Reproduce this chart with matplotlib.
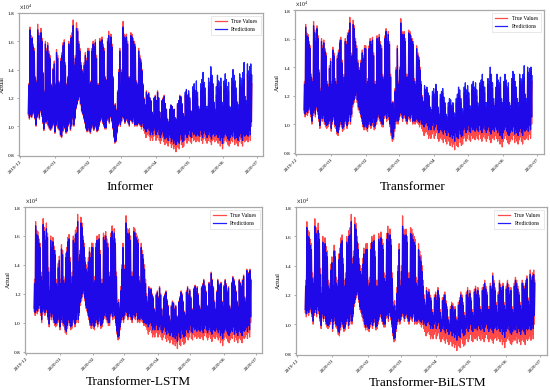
import numpy as np
import matplotlib
matplotlib.use("Agg")
import matplotlib.pyplot as plt
import matplotlib.dates as mdates
from matplotlib.ticker import ScalarFormatter

plt.rcParams['font.family'] = ['Liberation Serif', 'DejaVu Serif']
plt.rcParams['mathtext.fontset'] = 'stix'

# daily load, units of 100 (first day 2019-12-08), one row per week Sun..Sat
start_day = '2019-12-08'

true_peak = [
    130, 170, 164, 163, 158, 155, 135,
    132, 172, 166, 160, 169, 162, 138,
    125, 160, 155, 159, 153, 150, 130,
    128, 141, 146, 130, 154, 150, 132,
    130, 148, 152, 159, 161, 145, 130,
    135, 160, 158, 164, 166, 175, 145,
    150, 173, 169, 160, 155, 145, 140,
    138, 145, 152, 148, 155, 155, 130,
    132, 155, 160, 158, 161, 150, 130,
    130, 162, 160, 163, 158, 155, 135,
    133, 162, 167, 160, 165, 158, 135,
    115, 116, 112, 125, 140, 155, 130,
    140, 174, 165, 164, 165, 160, 135,
    135, 166, 165, 162, 160, 158, 132,
    130, 155, 150, 147, 140, 130, 120,
    115, 125, 122, 124, 120, 118, 110,
    108, 120, 122, 118, 125, 120, 110,
    105, 118, 120, 122, 116, 112, 105,
    102, 112, 115, 114, 110, 112, 105,
    104, 115, 118, 122, 120, 115, 108,
    106, 122, 125, 120, 123, 118, 110,
    108, 124, 126, 122, 125, 120, 112,
    110, 125, 127, 130, 126, 122, 112,
    112, 128, 126, 135, 130, 125, 115,
    110, 122, 130, 127, 125, 128, 115,
    112, 126, 130, 127, 122, 125, 112,
    110, 128, 132, 130, 126, 122, 115,
    112, 130, 128, 126, 130, 133, 118,
    115, 137, 132, 135, 137, 130]

true_trough = [
    108, 105, 107, 106, 108, 110, 105,
    100, 106, 108, 105, 110, 107, 102,
    97, 105, 102, 104, 100, 98, 97,
    98, 100, 102, 95, 100, 103, 98,
    97, 93, 92, 96, 100, 98, 95,
    96, 100, 102, 97, 100, 105, 100,
    105, 112, 115, 118, 120, 115, 110,
    108, 105, 102, 98, 96, 98, 96,
    95, 98, 100, 97, 99, 102, 96,
    97, 100, 103, 105, 102, 100, 98,
    98, 104, 105, 102, 106, 103, 98,
    92, 88, 89, 95, 100, 102, 100,
    103, 106, 105, 102, 104, 105, 102,
    100, 104, 103, 102, 105, 100, 101,
    100, 102, 101, 100, 98, 100, 97,
    95, 92, 94, 95, 93, 90, 92,
    90, 93, 95, 90, 92, 94, 90,
    88, 90, 92, 89, 87, 90, 88,
    86, 90, 88, 85, 87, 84, 86,
    82, 88, 85, 84, 90, 87, 85,
    86, 90, 92, 88, 90, 93, 89,
    88, 92, 90, 91, 89, 92, 90,
    89, 93, 90, 88, 91, 93, 90,
    88, 90, 92, 89, 87, 90, 91,
    89, 92, 90, 88, 90, 86, 88,
    84, 88, 90, 92, 89, 87, 86,
    88, 90, 89, 92, 87, 90, 88,
    86, 89, 91, 88, 86, 90, 89,
    90, 92, 89, 93, 90, 100]

informer_peak = [
    129, 168, 161, 162, 156, 153, 134,
    131, 168, 164, 158, 166, 160, 137,
    124, 158, 153, 157, 151, 148, 129,
    127, 140, 144, 129, 152, 148, 131,
    129, 146, 150, 157, 159, 143, 129,
    134, 158, 156, 162, 163, 171, 143,
    148, 169, 167, 158, 153, 143, 139,
    137, 143, 150, 146, 153, 153, 129,
    131, 153, 158, 156, 159, 148, 129,
    129, 160, 158, 161, 156, 153, 134,
    132, 160, 164, 158, 163, 156, 134,
    114, 115, 111, 124, 138, 153, 129,
    138, 170, 163, 162, 163, 158, 134,
    134, 164, 163, 160, 158, 156, 131,
    129, 153, 148, 145, 139, 129, 119,
    115, 124, 122, 123, 120, 118, 110,
    108, 120, 121, 118, 124, 120, 110,
    105, 118, 119, 121, 116, 112, 105,
    103, 112, 115, 114, 111, 112, 106,
    105, 116, 118, 121, 121, 116, 109,
    107, 124, 126, 122, 125, 120, 111,
    110, 128, 130, 125, 132, 124, 114,
    112, 130, 133, 138, 131, 127, 114,
    114, 134, 131, 142, 136, 130, 117,
    112, 128, 136, 132, 131, 134, 117,
    114, 132, 137, 133, 128, 131, 114,
    113, 134, 140, 136, 132, 127, 117,
    115, 137, 134, 132, 138, 145, 121,
    118, 144, 139, 142, 144, 136]

informer_trough = [
    109, 106, 108, 107, 109, 111, 106,
    101, 107, 109, 106, 111, 108, 103,
    98, 106, 103, 105, 101, 99, 98,
    99, 101, 103, 96, 101, 104, 99,
    98, 94, 93, 97, 101, 99, 96,
    97, 101, 103, 98, 101, 106, 101,
    106, 113, 116, 119, 121, 116, 111,
    109, 106, 103, 99, 97, 99, 97,
    96, 99, 101, 98, 100, 103, 97,
    98, 101, 104, 106, 103, 101, 99,
    99, 105, 106, 103, 107, 104, 99,
    93, 89, 90, 96, 101, 103, 101,
    104, 107, 106, 103, 105, 106, 103,
    101, 105, 104, 103, 106, 101, 102,
    101, 103, 102, 101, 100, 102, 99,
    98, 96, 98, 99, 97, 94, 96,
    94, 97, 99, 94, 96, 98, 94,
    92, 94, 96, 93, 91, 94, 92,
    90, 94, 92, 89, 91, 88, 90,
    87, 92, 89, 88, 94, 91, 89,
    90, 94, 96, 92, 94, 97, 93,
    92, 96, 94, 95, 93, 96, 94,
    93, 97, 94, 92, 95, 97, 94,
    92, 94, 96, 93, 91, 94, 95,
    93, 96, 94, 92, 94, 90, 92,
    88, 92, 94, 96, 93, 91, 90,
    92, 94, 93, 96, 91, 94, 92,
    90, 93, 95, 92, 90, 94, 93,
    94, 96, 93, 97, 94, 103]

transformer_peak = [
    128, 168, 162, 161, 156, 153, 133,
    130, 169, 164, 158, 167, 160, 136,
    123, 158, 153, 157, 151, 148, 128,
    126, 139, 144, 128, 152, 148, 130,
    128, 146, 150, 157, 159, 143, 128,
    133, 158, 156, 162, 164, 171, 143,
    148, 170, 167, 158, 153, 143, 138,
    136, 143, 150, 146, 153, 153, 128,
    130, 153, 158, 156, 159, 148, 128,
    128, 160, 158, 161, 156, 153, 133,
    131, 160, 165, 158, 163, 156, 133,
    114, 115, 111, 123, 138, 153, 128,
    138, 171, 163, 162, 163, 158, 133,
    133, 164, 163, 160, 158, 156, 130,
    128, 153, 148, 145, 138, 128, 119,
    116, 127, 124, 126, 122, 120, 112,
    110, 123, 125, 121, 128, 123, 112,
    107, 121, 123, 125, 119, 115, 107,
    105, 115, 118, 117, 113, 115, 108,
    107, 118, 121, 126, 124, 118, 111,
    109, 126, 129, 124, 127, 122, 113,
    111, 128, 130, 126, 129, 124, 115,
    113, 129, 131, 135, 130, 126, 115,
    115, 132, 130, 140, 135, 129, 118,
    113, 126, 135, 131, 129, 133, 118,
    115, 130, 135, 131, 126, 129, 115,
    113, 132, 137, 135, 130, 126, 118,
    115, 135, 132, 130, 135, 141, 121,
    118, 140, 136, 139, 140, 134]

transformer_trough = [
    110, 107, 109, 108, 110, 112, 107,
    102, 108, 110, 107, 112, 109, 104,
    99, 107, 104, 106, 102, 100, 99,
    100, 102, 104, 97, 102, 105, 100,
    99, 95, 94, 98, 102, 100, 97,
    98, 102, 104, 99, 102, 107, 102,
    107, 114, 117, 120, 122, 117, 112,
    110, 107, 104, 100, 98, 100, 98,
    97, 100, 102, 99, 101, 104, 98,
    99, 102, 105, 107, 104, 102, 100,
    100, 106, 107, 104, 108, 105, 100,
    94, 90, 91, 97, 102, 104, 102,
    105, 108, 107, 104, 106, 107, 104,
    102, 106, 105, 104, 107, 102, 103,
    102, 104, 103, 102, 101, 103, 100,
    100, 98, 100, 101, 99, 96, 98,
    96, 99, 101, 96, 98, 100, 96,
    94, 96, 98, 95, 93, 96, 94,
    92, 96, 94, 91, 93, 90, 92,
    88, 94, 91, 90, 96, 93, 91,
    92, 96, 98, 94, 96, 99, 95,
    94, 98, 96, 97, 95, 98, 96,
    95, 99, 96, 94, 97, 99, 96,
    94, 96, 98, 95, 93, 96, 97,
    95, 98, 96, 94, 96, 92, 94,
    90, 94, 96, 98, 95, 93, 92,
    94, 96, 95, 98, 93, 96, 94,
    92, 95, 97, 94, 92, 96, 95,
    96, 98, 95, 99, 96, 105]

lstm_peak = [
    127, 167, 161, 160, 155, 152, 132,
    129, 168, 163, 157, 165, 159, 135,
    122, 157, 152, 156, 150, 147, 127,
    125, 138, 143, 127, 151, 147, 129,
    127, 145, 149, 156, 158, 142, 127,
    132, 157, 155, 161, 162, 170, 142,
    147, 169, 166, 157, 152, 142, 137,
    135, 142, 149, 145, 152, 152, 127,
    129, 152, 157, 155, 158, 147, 127,
    127, 159, 157, 160, 155, 152, 132,
    130, 159, 163, 157, 162, 155, 132,
    113, 114, 110, 122, 137, 152, 127,
    137, 169, 162, 161, 162, 157, 132,
    132, 163, 162, 159, 157, 155, 129,
    127, 152, 147, 144, 137, 127, 118,
    114, 124, 121, 123, 119, 117, 109,
    107, 119, 121, 117, 124, 119, 109,
    104, 117, 119, 121, 115, 111, 104,
    101, 111, 114, 113, 109, 111, 104,
    103, 114, 117, 121, 119, 114, 107,
    105, 121, 124, 119, 122, 117, 109,
    107, 123, 125, 121, 124, 119, 111,
    109, 124, 126, 129, 125, 121, 111,
    111, 127, 125, 134, 129, 124, 114,
    109, 121, 129, 126, 124, 127, 114,
    111, 125, 129, 126, 121, 124, 111,
    109, 127, 131, 129, 125, 121, 114,
    111, 129, 127, 125, 129, 132, 117,
    114, 136, 131, 134, 136, 129]

lstm_trough = [
    110, 107, 109, 108, 110, 112, 107,
    102, 108, 110, 107, 112, 109, 104,
    99, 107, 104, 106, 102, 100, 99,
    100, 102, 104, 97, 102, 105, 100,
    99, 95, 94, 98, 102, 100, 97,
    98, 102, 104, 99, 102, 107, 102,
    107, 114, 117, 120, 122, 117, 112,
    110, 107, 104, 100, 98, 100, 98,
    97, 100, 102, 99, 101, 104, 98,
    99, 102, 105, 107, 104, 102, 100,
    100, 106, 107, 104, 108, 105, 100,
    94, 90, 91, 97, 102, 104, 102,
    105, 108, 107, 104, 106, 107, 104,
    102, 106, 105, 104, 107, 102, 103,
    102, 104, 103, 102, 100, 102, 99,
    100, 97, 99, 100, 98, 95, 97,
    95, 98, 100, 95, 97, 99, 95,
    93, 95, 97, 94, 92, 95, 93,
    91, 95, 93, 90, 92, 89, 91,
    87, 93, 90, 89, 95, 92, 90,
    91, 95, 97, 93, 95, 98, 94,
    93, 97, 95, 96, 94, 97, 95,
    94, 98, 95, 93, 96, 98, 95,
    93, 95, 97, 94, 92, 95, 96,
    94, 97, 95, 93, 95, 91, 93,
    89, 93, 95, 97, 94, 92, 91,
    93, 95, 94, 97, 92, 95, 93,
    91, 94, 96, 93, 91, 95, 94,
    95, 97, 94, 98, 95, 104]

bilstm_peak = [
    126, 166, 160, 159, 154, 151, 131,
    128, 167, 162, 156, 164, 158, 134,
    121, 156, 151, 155, 149, 146, 126,
    124, 137, 142, 126, 150, 146, 128,
    126, 144, 148, 155, 157, 141, 126,
    131, 156, 154, 160, 161, 170, 141,
    146, 168, 165, 156, 151, 141, 136,
    134, 141, 148, 144, 151, 151, 126,
    128, 151, 156, 154, 157, 146, 126,
    126, 158, 156, 159, 154, 151, 131,
    129, 158, 162, 156, 161, 154, 131,
    112, 113, 109, 121, 136, 151, 126,
    136, 167, 161, 160, 161, 156, 131,
    131, 162, 161, 158, 156, 154, 128,
    126, 151, 146, 143, 136, 126, 117,
    113, 123, 120, 122, 118, 116, 108,
    106, 118, 120, 116, 123, 118, 108,
    103, 116, 118, 120, 114, 110, 103,
    100, 110, 113, 112, 108, 110, 103,
    102, 113, 116, 120, 118, 113, 106,
    104, 120, 123, 118, 121, 116, 108,
    106, 122, 124, 120, 123, 118, 110,
    108, 123, 125, 128, 124, 120, 110,
    110, 126, 124, 133, 128, 123, 113,
    108, 120, 128, 125, 123, 126, 113,
    110, 124, 128, 125, 120, 123, 110,
    108, 126, 130, 128, 124, 120, 113,
    110, 128, 126, 124, 128, 131, 116,
    113, 134, 130, 133, 134, 128]

bilstm_trough = [
    110, 107, 109, 108, 110, 112, 107,
    102, 108, 110, 107, 112, 109, 104,
    99, 107, 104, 106, 102, 100, 99,
    100, 102, 104, 97, 102, 105, 100,
    99, 95, 94, 98, 102, 100, 97,
    98, 102, 104, 99, 102, 107, 102,
    107, 114, 117, 120, 122, 117, 112,
    110, 107, 104, 100, 98, 100, 98,
    97, 100, 102, 99, 101, 104, 98,
    99, 102, 105, 107, 104, 102, 100,
    100, 106, 107, 104, 108, 105, 100,
    94, 90, 91, 97, 102, 104, 102,
    105, 108, 107, 104, 106, 107, 104,
    102, 106, 105, 104, 107, 102, 103,
    102, 104, 103, 102, 101, 103, 100,
    102, 99, 101, 102, 100, 97, 99,
    97, 100, 102, 97, 99, 101, 97,
    95, 97, 99, 96, 94, 97, 95,
    93, 97, 95, 92, 94, 91, 93,
    89, 95, 92, 91, 97, 94, 92,
    93, 97, 99, 95, 97, 100, 96,
    95, 99, 97, 98, 96, 99, 97,
    96, 100, 97, 95, 98, 100, 97,
    95, 97, 99, 96, 94, 97, 98,
    96, 99, 97, 95, 97, 93, 95,
    91, 95, 97, 99, 96, 94, 93,
    95, 97, 96, 99, 94, 97, 95,
    93, 96, 98, 95, 93, 97, 96,
    97, 99, 96, 100, 97, 106]

titles = ['Informer', 'Transformer', 'Transformer-LSTM', 'Transformer-BiLSTM']
preds = [(informer_peak, informer_trough), (transformer_peak, transformer_trough),
         (lstm_peak, lstm_trough), (bilstm_peak, bilstm_trough)]


def zigzag(trough, peak):
    days = np.datetime64(start_day, 'h') + np.arange(len(peak)) * 24
    t = np.empty(2 * len(peak), dtype='datetime64[h]')
    v = np.empty(2 * len(peak))
    t[0::2] = days + 4
    t[1::2] = days + 14
    v[0::2] = np.array(trough) * 100.0
    v[1::2] = np.array(peak) * 100.0
    return t, v


fig = plt.figure(figsize=(5.5, 3.9), dpi=100)
axes_pos = [[0.035, 0.600, 0.444, 0.367],
            [0.536, 0.605, 0.453, 0.369],
            [0.046, 0.095, 0.431, 0.374],
            [0.538, 0.090, 0.456, 0.379]]
title_pos = [(0.236, 0.505), (0.751, 0.505), (0.251, 0.005), (0.778, 0.003)]

t_true, v_true = zigzag(true_trough, true_peak)

for i in range(4):
    ax = fig.add_axes(axes_pos[i])
    t_pred, v_pred = zigzag(preds[i][1], preds[i][0])
    ax.plot(t_true, v_true, color='#ff2a2a', lw=0.9, alpha=0.85, label='True Values')
    ax.plot(t_pred, v_pred, color='#0000ff', lw=0.9, alpha=0.88, label='Predictions')
    ax.set_xlim(np.datetime64('2019-11-30'), np.datetime64('2020-07-07'))
    ax.set_ylim(7900, 18000)
    ax.xaxis.set_major_locator(mdates.MonthLocator())
    ax.xaxis.set_major_formatter(mdates.DateFormatter('%Y-%m'))
    fmt = ScalarFormatter(useMathText=True)
    fmt.set_powerlimits((0, 0))
    ax.yaxis.set_major_formatter(fmt)
    ax.yaxis.get_offset_text().set_fontsize(4)
    ax.set_ylabel('Actual', fontsize=4.5, labelpad=2)
    ax.tick_params(axis='both', labelsize=3.8, length=1.5, width=0.5, pad=1, color='#888888')
    for lab in ax.get_xticklabels():
        lab.set_rotation(45)
        lab.set_ha('right')
        lab.set_rotation_mode('anchor')
    for s in ax.spines.values():
        s.set_color('#a8a8a8')
        s.set_linewidth(0.9)
    leg = ax.legend(loc='upper right', fontsize=4, handlelength=2.2, borderpad=0.6,
                    labelspacing=0.5, fancybox=False)
    leg.get_frame().set_linewidth(0.4)
    fig.text(title_pos[i][0], title_pos[i][1], titles[i], fontsize=9.5, ha='center', va='bottom')

plt.savefig('out.png', dpi=100)
